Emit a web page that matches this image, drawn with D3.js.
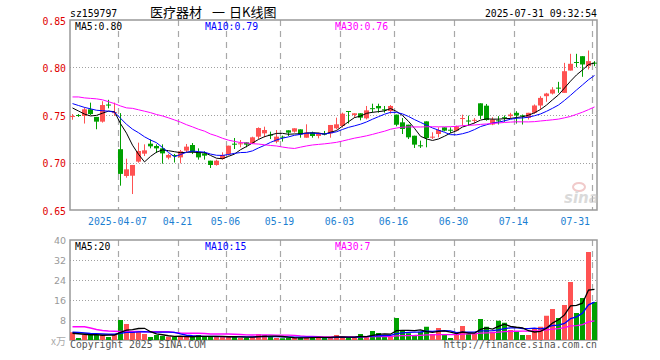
<!DOCTYPE html>
<html>
<head>
<meta charset="utf-8">
<script src="https://cdn.jsdelivr.net/npm/d3@7"></script>
<style>
body { margin: 0; background: #fff; }
text { font-family: "DejaVu Sans Mono", monospace; font-size: 11px; }
</style>
</head>
<body>
<div id="root"></div>
<script>
// trading days shown (2025)
const dates = ["03-25","03-26","03-27","03-28","03-31","04-01","04-02","04-03","04-07","04-08",
    "04-09","04-10","04-11","04-14","04-15","04-16","04-17","04-18","04-21","04-22",
    "04-23","04-24","04-25","04-28","04-29","04-30","05-06","05-07","05-08","05-09",
    "05-12","05-13","05-14","05-15","05-16","05-19","05-20","05-21","05-22","05-23",
    "05-26","05-27","05-28","05-29","05-30","06-03","06-04","06-05","06-06","06-09",
    "06-10","06-11","06-12","06-13","06-16","06-17","06-18","06-19","06-20","06-23",
    "06-24","06-25","06-26","06-27","06-30","07-01","07-02","07-03","07-04","07-07",
    "07-08","07-09","07-10","07-11","07-14","07-15","07-16","07-17","07-18","07-21",
    "07-22","07-23","07-24","07-25","07-28","07-29","07-30","07-31"];

const open = [0.748,0.750,0.749,0.756,0.748,0.743,0.761,0.752,0.714,0.6858,
    0.6861,0.7009,0.7093,0.7198,0.7174,0.7149,0.7051,0.7079,0.7054,0.7125,
    0.7184,0.7107,0.7096,0.7019,0.6974,0.7037,0.7089,0.7198,0.7198,0.7212,
    0.7202,0.7272,0.7307,0.7293,0.7219,0.7272,0.7339,0.7325,0.7349,0.7261,
    0.7314,0.7279,0.7304,0.7307,0.736,0.7384,0.7542,0.750,0.7518,0.7465,
    0.7572,0.7595,0.756,0.7542,0.7504,0.7423,0.7398,0.7282,0.7181,0.7433,
    0.7268,0.730,0.737,0.7345,0.7335,0.7465,0.7442,0.7445,0.7623,0.7598,
    0.740,0.7444,0.7477,0.7488,0.7523,0.7496,0.747,0.7523,0.760,0.7698,
    0.7726,0.7788,0.7733,0.7968,0.8058,0.8119,0.8014,0.8051];
const high = [0.751,0.751,0.758,0.763,0.748,0.7645,0.766,0.763,0.752,0.704,
    0.6974,0.7209,0.7191,0.7244,0.7191,0.7191,0.7093,0.709,0.7132,0.7195,
    0.7205,0.7149,0.7118,0.7019,0.703,0.7107,0.7177,0.7258,0.7237,0.7212,
    0.7272,0.737,0.7377,0.7325,0.7342,0.7283,0.7339,0.736,0.7349,0.7402,
    0.7325,0.7314,0.7332,0.7395,0.7472,0.7525,0.7542,0.7518,0.7518,0.7595,
    0.7619,0.7619,0.7595,0.7605,0.7504,0.7468,0.7398,0.7282,0.723,0.7433,
    0.7318,0.737,0.737,0.737,0.7388,0.7504,0.7493,0.7468,0.7623,0.7616,
    0.7477,0.7488,0.7495,0.7523,0.754,0.7505,0.7523,0.7611,0.7698,0.7733,
    0.7793,0.7849,0.8049,0.8144,0.8144,0.8119,0.8179,0.8067];
const low = [0.745,0.748,0.741,0.750,0.735,0.742,0.757,0.749,0.6756,0.684,
    0.6668,0.6998,0.7068,0.7149,0.710,0.6988,0.7033,0.700,0.6991,0.7107,
    0.7089,0.703,0.703,0.6942,0.6967,0.703,0.7072,0.7142,0.716,0.716,
    0.7195,0.7247,0.7265,0.7247,0.7202,0.722,0.7279,0.7314,0.7261,0.7261,
    0.7261,0.7254,0.7286,0.7261,0.7349,0.7367,0.741,0.7472,0.7444,0.7454,
    0.7525,0.7525,0.7525,0.7514,0.7381,0.730,0.7247,0.7153,0.7153,0.716,
    0.7247,0.7265,0.7328,0.731,0.7328,0.7388,0.7388,0.7412,0.7458,0.744,
    0.7393,0.740,0.7428,0.7463,0.741,0.740,0.7453,0.7512,0.7558,0.7639,
    0.7716,0.7733,0.7733,0.7968,0.8004,0.7902,0.7979,0.8014];
const close = [0.749,0.749,0.756,0.751,0.743,0.7605,0.760,0.753,0.688,0.6928,
    0.6974,0.7121,0.7128,0.717,0.7149,0.7096,0.7079,0.7075,0.7118,0.7167,
    0.7107,0.7054,0.7072,0.6974,0.7019,0.7079,0.7177,0.7195,0.7202,0.7188,
    0.7265,0.7363,0.7342,0.729,0.7272,0.7268,0.7314,0.736,0.7296,0.7314,
    0.7279,0.7304,0.730,0.7395,0.7402,0.7514,0.7535,0.7518,0.7472,0.7549,
    0.7568,0.757,0.7558,0.7595,0.7398,0.7353,0.7265,0.7188,0.7177,0.7258,
    0.7272,0.7342,0.7335,0.7342,0.7381,0.7468,0.744,0.7449,0.7493,0.7447,
    0.7453,0.744,0.7474,0.7505,0.7495,0.7493,0.7523,0.760,0.768,0.7726,
    0.7768,0.7786,0.7961,0.8039,0.8054,0.8032,0.8067,0.8049];
// volume, 10k lots
const volume = [3.1,0.8,2.0,2.7,2.0,2.0,1.2,2.0,8.0,6.4,
    3.3,3.3,2.4,1.2,2.0,1.6,1.3,1.3,1.3,1.3,
    1.3,2.0,1.3,1.3,1.3,1.3,1.3,1.3,0.9,0.9,
    1.3,2.3,2.0,1.2,0.8,0.7,0.9,0.9,0.9,0.9,
    1.3,1.3,0.9,0.9,2.0,0.9,0.9,0.9,2.4,1.6,
    3.6,2.8,2.0,1.6,8.8,4.0,2.7,1.6,3.3,5.3,
    2.4,4.8,2.4,0.8,2.4,5.6,2.4,2.4,8.4,5.3,
    3.3,7.7,6.9,4.0,3.6,2.0,2.0,4.4,5.3,9.7,
    12.4,8.8,14.0,23.2,10.8,16.8,35.2,15.2];

// moving average values before a full window exists
const ma5Head = [0.7574,0.7542,0.751,0.749];
const ma10Head = [0.762,0.760,0.758,0.7565,0.755,0.7545,0.754,0.753,0.7465];
const ma30Head = [0.769,0.769,0.768,0.7675,0.767,0.766,0.764,0.762,0.7595,0.7575,
    0.757,0.7555,0.754,0.7525,0.7505,0.749,0.747,0.7448,0.7425,0.7398,
    0.7375,0.735,0.733,0.730,0.728,0.7255,0.7235,0.7222,0.721];
const volMa5Head = [2.7,2.5,2.3,2.1];
const volMa10Head = [3.1,3.0,2.8,2.6,2.5,2.4,2.3,2.3,2.7];
const volMa30Head = [5.3,5.3,5.3,4.8,4.2,3.8,3.6,3.5,3.4,3.4,
    3.4,3.4,3.3,3.3,3.3,3.3,3.3,3.0,2.8,2.7,
    2.7,2.7,2.6,2.4,2.4,2.4,2.4,2.3,2.2];

const tickDates = ["04-07","04-21","05-06","05-19","06-03","06-16","06-30","07-14","07-31"];
const tickLabels = ["2025-04-07","04-21","05-06","05-19","06-03","06-16","06-30","07-14","07-31"];
const priceTicks = [0.65, 0.70, 0.75, 0.80, 0.85];
const volTicks = [8, 16, 24, 32, 40];
const priceLegend = ["MA5:0.80", "MA10:0.79", "MA30:0.76"];
const volLegend = ["MA5:20", "MA10:15", "MA30:7"];
const maColors = ["#000000", "#0000ff", "#ff00ff"];

const upColor = "#ff5252";
const downColor = "#00a000";
const charW = 5.9;

const left = 70, right = 597;
const priceTop = 20, priceBottom = 210;
const volTop = 240, volBottom = 340;

let scaleX = d3.scaleBand().domain(dates).range([69.5, 597.5]);
let scaleY = d3.scaleLinear().domain([0.65, 0.85]).range([priceBottom, priceTop]);
let scaleV = d3.scaleLinear().domain([0, 40]).range([volBottom, volTop]);
const cx = d => scaleX(d) + scaleX.bandwidth() / 2;

function movingAvg(values, n, head) {
    return values.map((v, i) => i < n - 1 ? head[i] : d3.mean(values.slice(i - n + 1, i + 1)));
}

function monoText(g, x, y, str, fill, anchor) {
    return g.append("text")
        .attr("x", x)
        .attr("y", y)
        .attr("fill", fill)
        .attr("text-anchor", anchor || "start")
        .attr("textLength", str.length * charW)
        .attr("lengthAdjust", "spacingAndGlyphs")
        .text(str);
}

let svg = d3.select("#root")
    .append("svg")
    .attr("width", 660)
    .attr("height", 360);

// grid: dotted horizontals, dashed verticals
svg.selectAll(".pgrid")
    .data([0.70, 0.75, 0.80])
    .enter().append("line")
    .attr("x1", left).attr("x2", right)
    .attr("y1", d => Math.round(scaleY(d)) + 0.5)
    .attr("y2", d => Math.round(scaleY(d)) + 0.5)
    .attr("stroke", "#a0a0a0")
    .attr("stroke-dasharray", "1,2");

svg.selectAll(".vgrid")
    .data(volTicks.slice(0, 4))
    .enter().append("line")
    .attr("x1", left).attr("x2", right)
    .attr("y1", d => Math.round(scaleV(d)) + 0.5)
    .attr("y2", d => Math.round(scaleV(d)) + 0.5)
    .attr("stroke", "#a0a0a0")
    .attr("stroke-dasharray", "1,2");

[[priceTop, priceBottom], [volTop, volBottom]].forEach(([t, b]) => {
    svg.selectAll(null)
        .data(tickDates)
        .enter().append("line")
        .attr("x1", d => cx(d) - 2).attr("x2", d => cx(d) - 2)
        .attr("y1", t).attr("y2", b)
        .attr("stroke", "#a8a8a8")
        .attr("stroke-width", 1.2)
        .attr("stroke-dasharray", "6,5");
});

// frames
[[priceTop, priceBottom], [volTop, volBottom]].forEach(([t, b]) => {
    svg.append("rect")
        .attr("x", left).attr("y", t)
        .attr("width", right - left).attr("height", b - t)
        .attr("fill", "none")
        .attr("stroke", "#999")
        .attr("stroke-width", 1.5);
});

// watermark
let wm = svg.append("g").attr("opacity", 0.55);
wm.append("ellipse")
    .attr("cx", 579).attr("cy", 187).attr("rx", 6).attr("ry", 4)
    .attr("fill", "none").attr("stroke", "#e6a0a0").attr("stroke-width", 2);
wm.append("text")
    .attr("x", 564).attr("y", 203)
    .style("font-family", "DejaVu Sans")
    .style("font-size", "15px")
    .style("font-weight", "bold")
    .style("font-style", "italic")
    .attr("fill", "#bdbdbd")
    .text("sina");

let candles = dates.map((d, i) => ({ date: d, o: open[i], h: high[i], l: low[i], c: close[i], v: volume[i] }));
const colorOf = d => d.c >= d.o ? upColor : downColor;

// candlesticks
let candle = svg.selectAll(".candle")
    .data(candles)
    .enter().append("g")
    .attr("class", "candle");

candle.append("line")
    .attr("x1", d => cx(d.date)).attr("x2", d => cx(d.date))
    .attr("y1", d => scaleY(d.h)).attr("y2", d => scaleY(d.l))
    .attr("stroke", colorOf);

candle.append("rect")
    .attr("x", d => cx(d.date) - 2.5)
    .attr("width", 5)
    .attr("y", d => scaleY(Math.max(d.o, d.c)))
    .attr("height", d => Math.max(1, Math.abs(scaleY(d.o) - scaleY(d.c))))
    .attr("fill", colorOf);

// volume bars
svg.selectAll(".vol")
    .data(candles)
    .enter().append("rect")
    .attr("class", "vol")
    .attr("x", d => cx(d.date) - 2.5)
    .attr("width", 5)
    .attr("y", d => scaleV(d.v))
    .attr("height", d => volBottom - scaleV(d.v))
    .attr("fill", colorOf);

// moving average lines
const priceMa = [movingAvg(close, 5, ma5Head), movingAvg(close, 10, ma10Head), movingAvg(close, 30, ma30Head)];
const volMa = [movingAvg(volume, 5, volMa5Head), movingAvg(volume, 10, volMa10Head), movingAvg(volume, 30, volMa30Head)];

let priceLine = d3.line().x((d, i) => cx(dates[i])).y(d => scaleY(d));
let volLine = d3.line().x((d, i) => cx(dates[i])).y(d => scaleV(d));

priceMa.forEach((m, k) => {
    svg.append("path").attr("d", priceLine(m))
        .attr("fill", "none").attr("stroke", maColors[k]).attr("stroke-width", 1);
});
volMa.slice().reverse().forEach((m, k) => {
    svg.append("path").attr("d", volLine(m))
        .attr("fill", "none").attr("stroke", maColors[2 - k]).attr("stroke-width", 1.3);
});

// axis labels
priceTicks.forEach(t => monoText(svg, 66, scaleY(t) + 4.5, d3.format(".2f")(t), "#e00000", "end"));

volTicks.forEach(t => {
    svg.append("text")
        .attr("x", 66).attr("y", scaleV(t) + 3.5)
        .attr("text-anchor", "end")
        .attr("fill", "#999")
        .style("font-family", "DejaVu Sans")
        .style("font-size", "9.5px")
        .text(t);
});
svg.append("text")
    .attr("x", 66).attr("y", 345)
    .attr("text-anchor", "end")
    .attr("fill", "#aaa")
    .style("font-family", "Noto Sans CJK SC")
    .style("font-size", "10px")
    .text("x万");

tickDates.forEach((d, i) => {
    let w = tickLabels[i].length * charW;
    let x = Math.min(cx(d) - 3, 590 - w / 2);
    monoText(svg, x, 225, tickLabels[i], "#1c7fd2", "middle");
});

// legends
const legendX = [75, 205, 335];
priceLegend.forEach((s, k) => monoText(svg, legendX[k], 29.5, s, maColors[k]));
volLegend.forEach((s, k) => monoText(svg, legendX[k], 250, s, maColors[k]));

// header and footer
monoText(svg, 70, 17, "sz159797", "#000");
monoText(svg, 597, 17, "2025-07-31 09:32:54", "#000", "end");

const titleParts = [["医疗器材", 150], ["一", 212], ["日K线图", 229]];
titleParts.forEach(([s, x]) => {
    svg.append("text")
        .attr("x", x).attr("y", 17)
        .attr("fill", "#000")
        .style("font-family", "Noto Sans CJK SC")
        .style("font-size", "13px")
        .text(s);
});

monoText(svg, 70, 348, "Copyright 2025 SINA.COM", "#555");
monoText(svg, 597, 348, "http://finance.sina.com.cn", "#555", "end");
</script>
</body>
</html>
